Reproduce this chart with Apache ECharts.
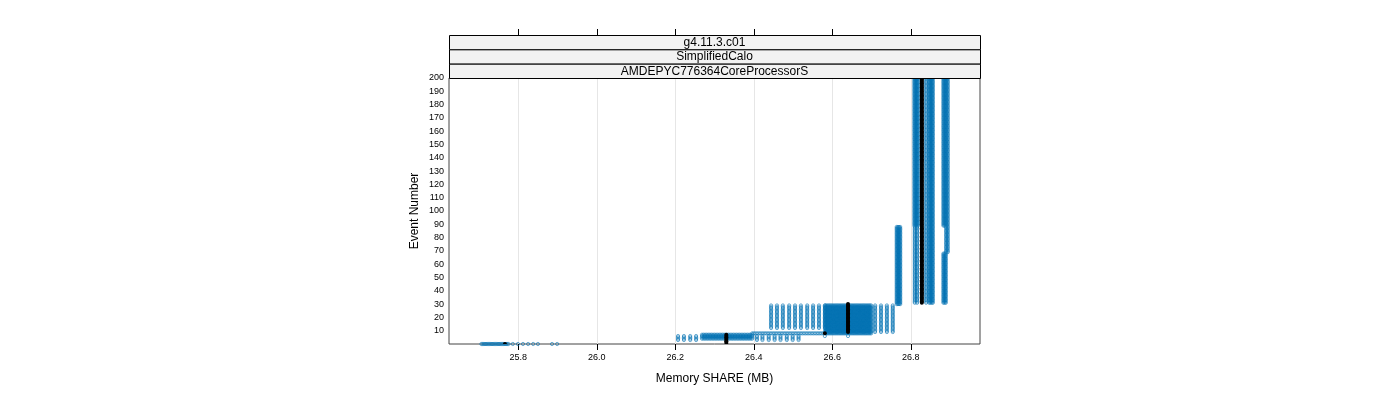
<!DOCTYPE html>
<html><head><meta charset="utf-8">
<script src="https://cdn.jsdelivr.net/npm/echarts@6/dist/echarts.min.js"></script>
<style>html,body{margin:0;padding:0;background:#fff}#c{width:1400px;height:400px}</style>
</head><body><div id="c"></div>
<script>
// ---- labels / ticks ----
const stripLabels = ['g4.11.3.c01', 'SimplifiedCalo', 'AMDEPYC776364CoreProcessorS'];
const xTickValues = [25.8, 26.0, 26.2, 26.4, 26.6, 26.8];
const xTitle = 'Memory SHARE (MB)';
const yTitle = 'Event Number';

// ---- blue points: memory values (MB) seen over a range of event numbers ----
const gA_x = [25.706, 25.709, 25.712, 25.715, 25.718, 25.721, 25.724, 25.727, 25.730, 25.733, 25.736,
  25.739, 25.742, 25.745, 25.748, 25.751, 25.754, 25.757, 25.760, 25.763, 25.766, 25.769, 25.772, 25.775,
  25.786, 25.799, 25.812, 25.825, 25.838, 25.850, 25.886, 25.899];
const gA_ev = [0, 0];
const gB_x = [26.268, 26.272, 26.276, 26.280, 26.284, 26.288, 26.292, 26.296, 26.300, 26.304, 26.308,
  26.312, 26.316, 26.320, 26.324, 26.328, 26.332, 26.336, 26.340, 26.344, 26.348, 26.352, 26.356, 26.360,
  26.364, 26.368, 26.372, 26.376, 26.380, 26.384, 26.388, 26.392, 26.396];
const gB_ev = [4, 7];
const gB2_x = [26.207, 26.222, 26.238, 26.253, 26.408, 26.422, 26.438, 26.453, 26.468, 26.484, 26.499, 26.514];
const gB2_ev = [3, 6];
const gL_x = [26.396, 26.400, 26.404, 26.408, 26.412, 26.416, 26.420, 26.424, 26.428, 26.432, 26.436,
  26.440, 26.444, 26.448, 26.452, 26.456, 26.460, 26.464, 26.468, 26.472, 26.476, 26.480, 26.484, 26.488,
  26.492, 26.496, 26.500, 26.504, 26.508, 26.512, 26.516, 26.520, 26.524, 26.528, 26.532, 26.536, 26.540,
  26.544, 26.548, 26.552, 26.556, 26.560, 26.564, 26.568, 26.572, 26.576];
const gL_ev = [8, 8];
const gC_x = [26.582, 26.585, 26.588, 26.591, 26.594, 26.597, 26.600, 26.603, 26.606, 26.609, 26.612,
  26.615, 26.618, 26.621, 26.624, 26.627, 26.630, 26.633, 26.636, 26.639, 26.642, 26.645, 26.648, 26.651,
  26.654, 26.657, 26.660, 26.663, 26.666, 26.669, 26.672, 26.675, 26.678, 26.681, 26.684, 26.687, 26.690,
  26.693, 26.696, 26.699];
const gC_ev = [8, 29];
const gC2_x = [26.444, 26.459, 26.474, 26.490, 26.505, 26.520, 26.536, 26.551, 26.566, 26.581];
const gC2_ev = [12, 29];
const gC3_x = [26.709, 26.724, 26.739, 26.754];
const gC3_ev = [9, 29];
const gD_x = [26.764, 26.767, 26.770, 26.773];
const gD_ev = [30, 88];
const gE1_x = [26.809, 26.812, 26.815, 26.818];
const gE1_ev = [89, 200];
const gE1b_x = [26.810, 26.816];
const gE1b_ev = [31, 88];
const gE2_x = [26.839];
const gE2_ev = [31, 200];
const gE3_x = [26.847, 26.850, 26.853, 26.856];
const gE3_ev = [31, 200];
const gE4_x = [26.883, 26.886];
const gE4a_ev = [31, 68];
const gE4b_ev = [89, 200];
const gE5_x = [26.889];
const gE5_ev = [31, 68];
const gE6_x = [26.890, 26.894];
const gE6_ev = [69, 200];
const blueSingleX = [26.581, 26.640];
const blueSingleEv = [6, 6];

// ---- black points: memory value per event range ----
const blackX = [25.766, 26.330, 26.581, 26.640, 26.828];
const blackFrom = [0, 1, 8, 9, 31];
const blackTo = [0, 7, 8, 30, 200];

// ---- build point lists ----
function expand(xs, ev, out) {
  for (let e = ev[0]; e <= ev[1]; e++) for (const x of xs) out.push([x, e]);
}
const blueData = [];
[[gA_x, gA_ev], [gB_x, gB_ev], [gB2_x, gB2_ev], [gL_x, gL_ev], [gC2_x, gC2_ev], [gC_x, gC_ev],
 [gC3_x, gC3_ev], [gD_x, gD_ev], [gE1_x, gE1_ev], [gE1b_x, gE1b_ev], [gE2_x, gE2_ev], [gE3_x, gE3_ev],
 [gE4_x, gE4a_ev], [gE4_x, gE4b_ev], [gE5_x, gE5_ev], [gE6_x, gE6_ev]]
  .forEach(g => expand(g[0], g[1], blueData));
blueSingleX.forEach((x, i) => blueData.push([x, blueSingleEv[i]]));
const blackData = [];
blackX.forEach((x, i) => expand([x], [blackFrom[i], blackTo[i]], blackData));

const FONT = '"Liberation Sans", Arial, sans-serif';
const GL = 449, GT = 78, GW = 531, GH = 266;

const chart = echarts.init(document.getElementById('c'), null, {renderer: 'canvas'});

const stripTop = 35, stripH = (GT - stripTop) / 3;
const graphics = [];
stripLabels.forEach((s, i) => {
  graphics.push({
    type: 'rect', z: 10,
    shape: {x: GL + 0.5, y: stripTop + 0.5 + i * stripH, width: GW, height: stripH},
    style: {fill: '#F2F2F2', stroke: '#000', lineWidth: 1}
  });
  graphics.push({
    type: 'text', z: 11,
    x: GL + GW / 2, y: stripTop + 0.5 + i * stripH + stripH / 2,
    style: {text: s, fill: '#000', font: '12px ' + FONT, textAlign: 'center', textVerticalAlign: 'middle'}
  });
});

function ringRenderer(color, r) {
  return function (params, api) {
    const p = api.coord([api.value(0), api.value(1)]);
    return {type: 'circle', shape: {cx: p[0], cy: p[1], r: r},
      style: {fill: 'none', stroke: color, lineWidth: 1}};
  };
}
function dotRenderer(color, r) {
  return function (params, api) {
    const p = api.coord([api.value(0), api.value(1)]);
    return {type: 'circle', shape: {cx: p[0], cy: p[1], r: r}, style: {fill: color}};
  };
}

chart.setOption({
  animation: false,
  backgroundColor: '#fff',
  textStyle: {fontFamily: FONT},
  grid: {left: GL, top: GT, width: GW, height: GH, show: true, borderColor: '#444', borderWidth: 1, backgroundColor: 'transparent'},
  xAxis: [{
    type: 'value', min: 25.6235, max: 26.9762, position: 'bottom',
    name: xTitle, nameLocation: 'middle', nameGap: 29,
    nameTextStyle: {fontSize: 12, color: '#000', fontFamily: FONT},
    axisLine: {show: false},
    axisTick: {show: true, length: 6, lineStyle: {color: '#000'}, customValues: xTickValues},
    axisLabel: {fontSize: 9, color: '#000', margin: 9, customValues: xTickValues,
      formatter: v => v.toFixed(1)},
    splitLine: {show: true, lineStyle: {color: '#E6E6E6', width: 1}}
  }, {
    type: 'value', min: 25.6235, max: 26.9762, position: 'top', offset: GT - stripTop,
    axisLine: {show: false},
    axisTick: {show: true, length: 6, lineStyle: {color: '#000'}, customValues: xTickValues},
    axisLabel: {show: false, customValues: xTickValues},
    splitLine: {show: false}
  }],
  yAxis: {
    type: 'value', min: 0, max: 200, interval: 10,
    name: yTitle, nameLocation: 'middle', nameGap: 28, nameRotate: 90,
    nameTextStyle: {fontSize: 12, color: '#000', fontFamily: FONT},
    axisLine: {show: false}, axisTick: {show: false},
    axisLabel: {fontSize: 9, color: '#000', margin: 5, showMinLabel: false,
      formatter: v => (v === 0 ? '' : String(v))},
    splitLine: {show: false}
  },
  graphic: graphics,
  series: [{
    type: 'custom', clip: true, xAxisIndex: 0, yAxisIndex: 0, z: 2,
    lineStyle: {width: 0.01},
    renderItem: ringRenderer('rgba(0,114,178,0.6)', 1.6),
    encode: {x: 0, y: 1},
    data: blueData
  }, {
    type: 'custom', clip: true, xAxisIndex: 0, yAxisIndex: 0, z: 3,
    lineStyle: {width: 0.01},
    renderItem: dotRenderer('#000000', 2),
    encode: {x: 0, y: 1},
    data: blackData
  }]
});
</script></body></html>
